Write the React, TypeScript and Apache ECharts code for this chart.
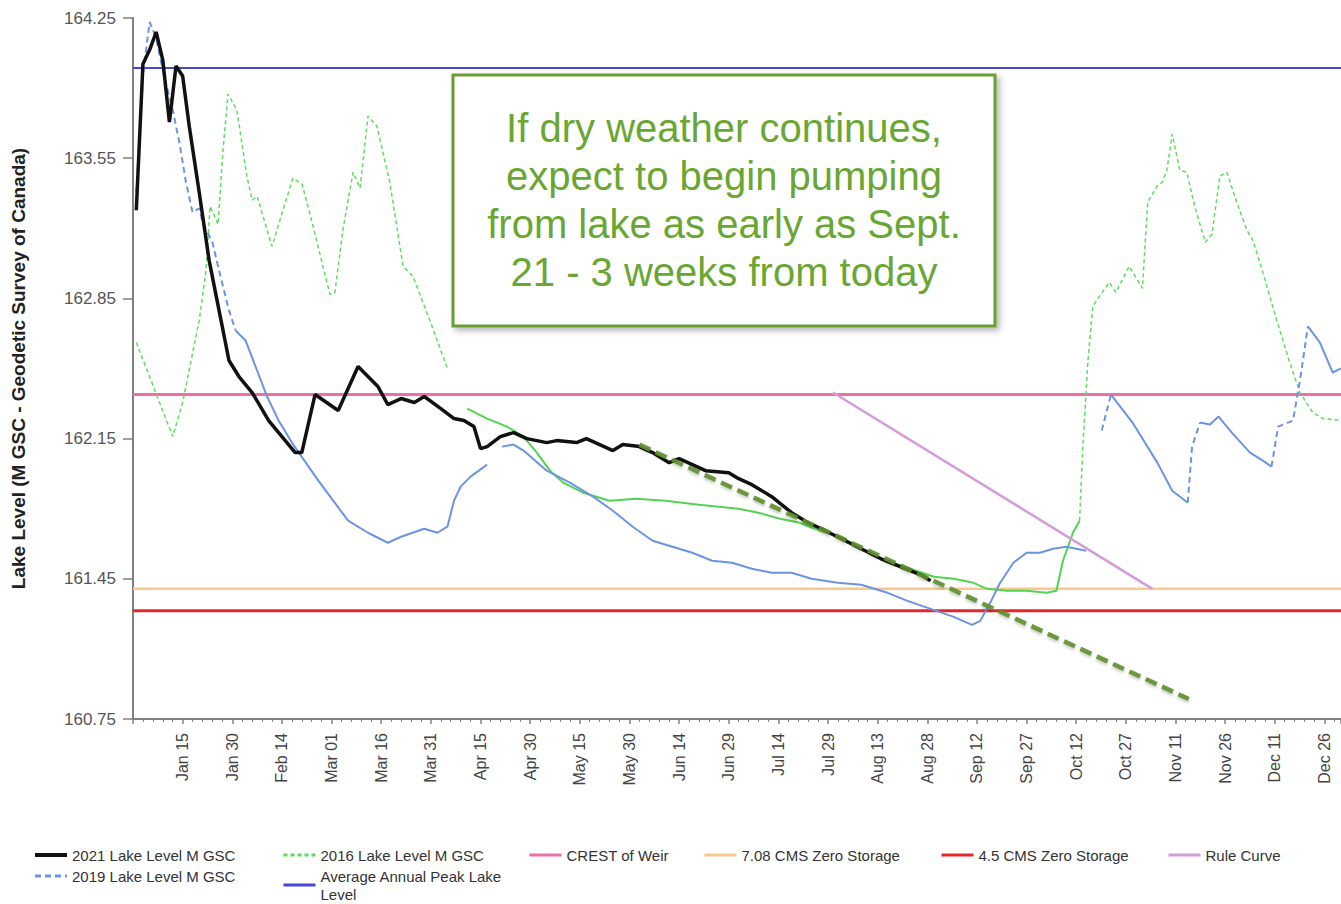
import React, { useEffect, useRef } from 'react';
import * as echarts from 'echarts';

const FONT = "'Liberation Sans', Arial, Helvetica, sans-serif";

// ---------- axis definitions ----------
const MONTHS = ['Jan', 'Feb', 'Mar', 'Apr', 'May', 'Jun', 'Jul', 'Aug', 'Sep', 'Oct', 'Nov', 'Dec'];
const MONTH_DAYS = [31, 28, 31, 30, 31, 30, 31, 31, 30, 31, 30, 31];
const X_MIN = 0;
const X_MAX = 365;
const X_INTERVAL = 15;
const Y_MIN = 160.75;
const Y_MAX = 164.25;
const Y_TICKS = [160.75, 161.45, 162.15, 162.85, 163.55, 164.25];

// ---------- series data: [day of year, level (m GSC)] ----------
const LEVEL_2021 = [
  [1, 163.29], [3, 164.02], [5, 164.09], [7, 164.18], [9, 164.04], [11, 163.73], [13, 164.01], [15, 163.96],
  [17, 163.71], [20, 163.38], [23, 163.04], [26, 162.79], [29, 162.54], [32, 162.46], [36, 162.38], [41, 162.24],
  [46, 162.14], [49, 162.08], [51, 162.08], [55, 162.37], [62, 162.29], [68, 162.51], [74, 162.41], [77, 162.32],
  [81, 162.35], [85, 162.33], [88, 162.36], [93, 162.30], [97, 162.25], [100, 162.24], [103, 162.21], [105, 162.10],
  [107, 162.11], [111, 162.16], [115, 162.18], [119, 162.15], [125, 162.13], [128, 162.14], [134, 162.13],
  [137, 162.15], [141, 162.12], [145, 162.09], [148, 162.12], [153, 162.11], [157, 162.08], [162, 162.03],
  [165, 162.05], [169, 162.02], [173, 161.99], [180, 161.98], [183, 161.95], [187, 161.92], [193, 161.86],
  [199, 161.78], [204, 161.73], [208, 161.70], [214, 161.65], [220, 161.60], [226, 161.55], [232, 161.51],
  [238, 161.47], [241, 161.44],
];

// 2019: interpolated (dashed) and measured (solid) stretches
const LEVEL_2019_DASHED = [
  [[1, 163.38], [3, 163.96], [5, 164.23], [7, 164.15], [9, 163.99], [12, 163.79], [14, 163.63], [16, 163.43],
   [18, 163.28], [20, 163.30], [21, 163.23], [24, 163.13], [26, 162.99], [29, 162.79], [31, 162.69]],
  [[292.7, 162.19], [295.5, 162.37]],
  [[318.7, 161.83], [320, 162.11], [322.4, 162.23]],
  [[344, 162.01], [346, 162.21], [350.5, 162.24], [352.6, 162.44], [355, 162.71]],
];
const LEVEL_2019_SOLID = [
  [[31, 162.69], [34, 162.64], [37.5, 162.49], [40.5, 162.36], [44, 162.24], [48, 162.13], [56, 161.94],
   [65, 161.74], [71, 161.68], [77, 161.63], [81, 161.66], [88, 161.70], [92, 161.68], [95, 161.71], [97, 161.84],
   [99, 161.91], [102, 161.96], [107, 162.02]],
  [[111.5, 162.11], [115, 162.12], [118, 162.09], [125, 161.99], [132, 161.93], [139, 161.86], [145, 161.79],
   [151, 161.71], [157, 161.64], [163, 161.61], [169, 161.58], [175, 161.54], [181, 161.53], [187, 161.50],
   [193, 161.48], [199, 161.48], [205, 161.45], [213, 161.43], [220, 161.42], [228, 161.38], [234, 161.34],
   [241, 161.30], [248, 161.26], [253.5, 161.22], [256, 161.24], [259, 161.33], [262, 161.43], [266, 161.53],
   [270, 161.58], [274, 161.58], [278, 161.60], [282, 161.61], [285, 161.60], [288, 161.59]],
  [[295.5, 162.37], [302, 162.23], [309.5, 162.03], [314, 161.89], [318.7, 161.83]],
  [[322.4, 162.23], [325.4, 162.22], [328, 162.26], [332, 162.18], [337.5, 162.08], [341.4, 162.04], [344, 162.01]],
  [[355, 162.71], [358.6, 162.63], [362.5, 162.48], [365, 162.50]],
];

// 2016: dashed early / late stretches, solid middle stretch
const LEVEL_2016_DASHED = [
  [[1, 162.63], [12, 162.16], [15, 162.33], [20, 162.74], [22, 162.98], [23.3, 163.31], [25.7, 163.22],
   [27.2, 163.59], [28.7, 163.87], [31.4, 163.79], [34.4, 163.46], [36, 163.34], [37.5, 163.36], [39.3, 163.26],
   [42, 163.11], [45.3, 163.29], [48.3, 163.45], [51.1, 163.42], [54.1, 163.23], [59.5, 162.87], [61, 162.88],
   [63.4, 163.19], [66.5, 163.48], [68.6, 163.40], [71, 163.76], [73.7, 163.71], [77.6, 163.43], [81.6, 163.01],
   [84.6, 162.96], [89.7, 162.74], [95, 162.50]],
  [[286, 161.74], [287, 162.11], [288.5, 162.53], [290, 162.81], [292, 162.86], [295, 162.93], [297, 162.88],
   [301, 163.01], [305, 162.90], [306.6, 163.33], [309.4, 163.41], [311, 163.43], [312.4, 163.49], [314, 163.67],
   [316.3, 163.49], [318.4, 163.48], [320.8, 163.31], [324, 163.13], [326, 163.17], [328.4, 163.46],
   [330.5, 163.48], [333.5, 163.33], [336.6, 163.19], [338.4, 163.14], [341.4, 162.98], [345.6, 162.74],
   [349.5, 162.53], [352.6, 162.38], [356.5, 162.28], [359.5, 162.25], [365, 162.24]],
];
const LEVEL_2016_SOLID = [
  [101, 162.30], [107, 162.25], [113, 162.21], [118, 162.16], [122, 162.08], [126, 161.99], [130, 161.93],
  [136, 161.88], [144, 161.84], [152, 161.85], [161, 161.84], [171, 161.82], [183, 161.80], [189, 161.78],
  [195.5, 161.75], [201.5, 161.73], [207.6, 161.69], [213.6, 161.66], [226, 161.55], [242, 161.46],
  [248, 161.45], [254, 161.43], [258, 161.40], [264, 161.39], [270, 161.39], [276, 161.38], [279, 161.39],
  [281, 161.54], [284, 161.68], [286, 161.74],
];

// reference levels
const AVG_PEAK_LEVEL = 164.0;
const CREST_OF_WEIR = 162.37;
const ZERO_STORAGE_708 = 161.40;
const ZERO_STORAGE_45 = 161.29;
const RULE_CURVE = [[211.5, 162.38], [308, 161.40]];

// annotations
const TREND_PROJECTION = [[153, 162.12], [319, 160.85]];
const PUMP_START = [[262.5, 163.74], [262.5, 160.5]];
const NOTE_TEXT = [
  'If dry weather continues,',
  'expect to begin pumping',
  'from lake as early as Sept.',
  '21 - 3 weeks from today',
];

const S2021 = '2021 Lake Level M GSC';
const S2019 = '2019 Lake Level M GSC';
const S2016 = '2016 Lake Level M GSC';
const SAVG = 'Average Annual Peak Lake Level';
const SCREST = 'CREST of Weir';
const S708 = '7.08 CMS Zero Storage';
const S45 = '4.5 CMS Zero Storage';
const SRULE = 'Rule Curve';

function dayLabel(v: number): string {
  let d = Math.round(v);
  if (d <= 0 || d % X_INTERVAL !== 0) return '';
  let m = 0;
  while (m < 11 && d > MONTH_DAYS[m]) {
    d -= MONTH_DAYS[m];
    m++;
  }
  return `${MONTHS[m]} ${String(d).padStart(2, '0')}`;
}

function joinSegments(segs: number[][][]): any[] {
  const out: any[] = [];
  segs.forEach((s, i) => {
    if (i > 0) out.push([s[0][0], '-']);
    s.forEach((p) => out.push(p));
  });
  return out;
}

function flat(v: number) {
  return [[X_MIN, v], [X_MAX, v]];
}

function lineSeries(name: string, data: any[], color: string, width: number, type: any = 'solid', extra: any = {}) {
  return {
    name,
    type: 'line',
    data,
    symbol: 'none',
    showSymbol: false,
    connectNulls: false,
    silent: true,
    lineStyle: { color, width, type, ...(extra.lineStyle || {}) },
    itemStyle: { color },
    z: extra.z ?? 2,
    clip: extra.clip ?? true,
  };
}

export default function App() {
  const ref = useRef<HTMLDivElement>(null);

  useEffect(() => {
    if (!ref.current) return;
    const chart = echarts.init(ref.current, undefined, { renderer: 'svg' });

    const legendCommon = {
      orient: 'vertical',
      padding: 0,
      itemWidth: 32,
      itemHeight: 14,
      itemGap: 3,
      selectedMode: false,
      textStyle: { fontSize: 15, color: '#333', fontFamily: FONT, lineHeight: 18 },
      lineStyle: { width: 3 },
      itemStyle: { opacity: 0 },
      formatter: (n: string) => (n === SAVG ? 'Average Annual Peak Lake\nLevel' : n),
    };

    const option: any = {
      animation: false,
      backgroundColor: '#ffffff',
      textStyle: { fontFamily: FONT },
      grid: { left: 133, right: 0, top: 18, bottom: 185, containLabel: false, outerBoundsMode: 'none' },
      xAxis: {
        type: 'value',
        min: X_MIN,
        max: X_MAX,
        interval: X_INTERVAL,
        axisLine: { show: true, lineStyle: { color: '#808080', width: 2 } },
        axisTick: { show: true, length: 5, lineStyle: { color: '#808080', width: 1.5 } },
        minorTick: { show: true, splitNumber: 5, length: 3, lineStyle: { color: '#808080', width: 1 } },
        splitLine: { show: false },
        minorSplitLine: { show: false },
        axisLabel: {
          rotate: 90,
          margin: 14,
          fontSize: 16,
          color: '#444',
          fontFamily: FONT,
          formatter: (v: number) => dayLabel(v),
        },
      },
      yAxis: {
        type: 'value',
        min: Y_MIN,
        max: Y_MAX,
        name: 'Lake Level (M GSC - Geodetic Survey of Canada)',
        nameLocation: 'middle',
        nameRotate: 90,
        nameGap: 105,
        nameTextStyle: { fontSize: 19, fontWeight: 'bold', color: '#222', fontFamily: FONT },
        axisLine: { show: true, lineStyle: { color: '#808080', width: 2 } },
        axisTick: { show: true, length: 10, customValues: Y_TICKS, lineStyle: { color: '#808080', width: 1.5 } },
        splitLine: { show: false },
        axisLabel: {
          customValues: Y_TICKS,
          margin: 17,
          fontSize: 17,
          color: '#555',
          fontFamily: FONT,
          formatter: (v: number) => v.toFixed(2),
        },
      },
      legend: [
        { ...legendCommon, left: 33, top: 846, data: [{ name: S2021, lineStyle: { width: 4 } }, S2019] },
        { ...legendCommon, left: 282, top: 846, data: [S2016] },
        { ...legendCommon, left: 282, top: 867, data: [SAVG] },
        { ...legendCommon, left: 528, top: 846, data: [SCREST] },
        { ...legendCommon, left: 703, top: 846, data: [S708] },
        { ...legendCommon, left: 940, top: 846, data: [S45] },
        { ...legendCommon, left: 1167, top: 846, data: [SRULE] },
      ],
      series: [
        lineSeries(SAVG, flat(AVG_PEAK_LEVEL), '#4747d6', 2),
        lineSeries(SCREST, flat(CREST_OF_WEIR), '#ee6fa7', 3),
        lineSeries(S708, flat(ZERO_STORAGE_708), '#f8c98e', 2.5),
        lineSeries(S45, flat(ZERO_STORAGE_45), '#e8262a', 3),
        lineSeries(S2016, joinSegments(LEVEL_2016_DASHED), '#5fdc5f', 1.5, [4, 3]),
        lineSeries('2016 measured', LEVEL_2016_SOLID, '#52d452', 2),
        lineSeries(S2019, joinSegments(LEVEL_2019_DASHED), '#6d93e3', 2, [6, 4]),
        lineSeries('2019 measured', joinSegments(LEVEL_2019_SOLID), '#6d93e3', 2),
        lineSeries(SRULE, RULE_CURVE, '#d49cd8', 2.5),
        lineSeries(S2021, LEVEL_2021, '#111111', 3.5, 'solid', { z: 3 }),
        lineSeries('Trend projection', TREND_PROJECTION, '#5f8f2c', 4.5, [12, 6], {
          z: 4,
          lineStyle: { shadowBlur: 3, shadowColor: 'rgba(0,0,0,0.25)', shadowOffsetY: 2, opacity: 0.9 },
        }),
        lineSeries('Pumping start', PUMP_START, '#5f8f2c', 5, [10, 4], {
          z: 4,
          clip: false,
          lineStyle: { shadowBlur: 3, shadowColor: 'rgba(0,0,0,0.2)', shadowOffsetX: 2 },
        }),
      ],
      graphic: [
        {
          type: 'group',
          z: 100,
          children: [
            {
              type: 'rect',
              shape: { x: 453, y: 75, width: 542, height: 251 },
              style: {
                fill: '#ffffff',
                stroke: '#6b9e34',
                lineWidth: 3,
                shadowBlur: 6,
                shadowColor: 'rgba(0,0,0,0.3)',
                shadowOffsetX: 3,
                shadowOffsetY: 3,
              },
            },
            {
              type: 'text',
              x: 724,
              y: 200,
              style: {
                text: NOTE_TEXT.join('\n'),
                fill: '#6aa632',
                fontSize: 40,
                fontFamily: FONT,
                lineHeight: 48,
                align: 'center',
                verticalAlign: 'middle',
                textAlign: 'center',
                textVerticalAlign: 'middle',
              },
            },
          ],
        },
      ],
    };

    chart.setOption(option);
    return () => chart.dispose();
  }, []);

  return (
    <div
      ref={ref}
      style={{ position: 'absolute', left: 0, top: 0, width: 1341, height: 904, background: '#fff' }}
    />
  );
}
